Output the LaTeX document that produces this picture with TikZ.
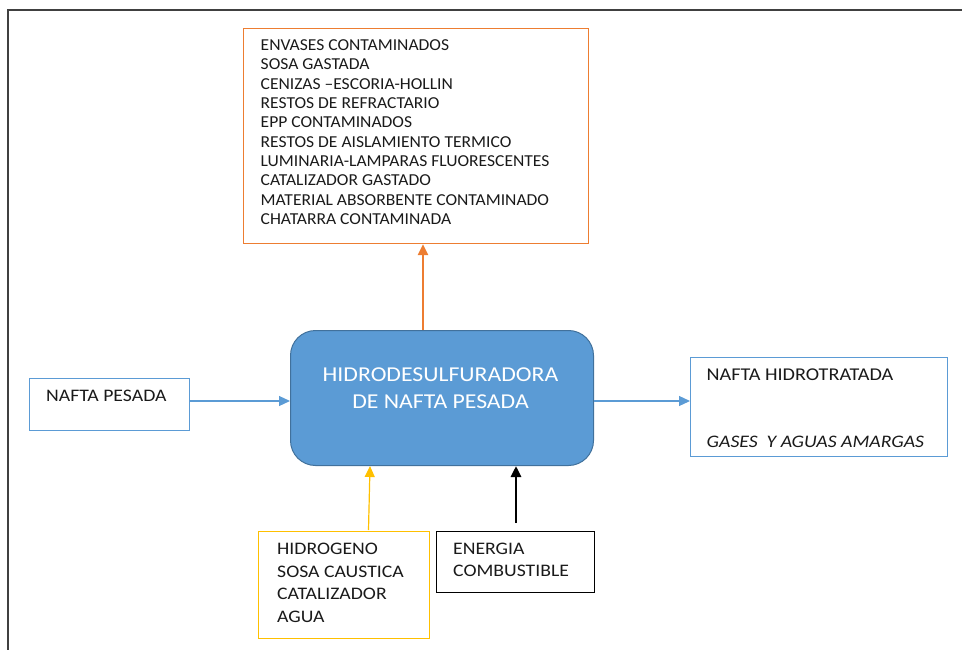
\documentclass[tikz,border=0pt]{standalone}
\usepackage{fontspec}
\setmainfont{Carlito}[FakeStretch=1.05]
\newfontfamily\wideface{Carlito}[FakeStretch=1.12]
\usetikzlibrary{arrows.meta}
\definecolor{wasteorange}{HTML}{ED7D31}
\definecolor{procblue}{HTML}{5B9BD5}
\definecolor{procedge}{HTML}{41719C}
\definecolor{feedyellow}{HTML}{FFC000}
\definecolor{inktext}{HTML}{1A1A1A}
\tikzset{
  x=1pt, y=-1pt,
  frameline/.style={draw=black!75, line width=1.6pt},
  listbox/.style={draw, line width=1.2pt, rectangle, inner sep=0pt, anchor=north west},
  proc/.style={draw=procedge, fill=procblue, line width=1pt, rounded corners=25pt,
    inner sep=0pt, anchor=north west},
  listtext/.style={inner sep=0pt, anchor=north west, align=left, text=inktext},
  flow/.style={line width=1.2pt, -{Triangle[length=11pt, width=10pt]}},
}
\begin{document}
\begin{tikzpicture}
\useasboundingbox (0,0) rectangle (962,650);
% page frame
\draw[frameline] (8,650) -- (8,10) -- (962,10);

% central process unit
\node[proc, minimum width=303pt, minimum height=135pt] (unit) at (290,330) {};
\node[inner sep=0pt, anchor=north, align=center, text=white,
  font=\wideface\fontsize{21.2}{26.5}\selectfont] (unitlabel) at (440.5,368)
  {HIDRODESULFURADORA\\DE NAFTA PESADA};

% wastes
\node[listbox, draw=wasteorange, minimum width=345pt, minimum height=215pt] (waste) at (243,28) {};
\node[listtext, font=\fontsize{16.7}{19.33}\selectfont] (wastetext) at (260.5,39.5)
  {ENVASES CONTAMINADOS\\
   SOSA GASTADA\\
   CENIZAS –ESCORIA-HOLLIN\\
   RESTOS DE REFRACTARIO\\
   EPP CONTAMINADOS\\
   RESTOS DE AISLAMIENTO TERMICO\\
   LUMINARIA-LAMPARAS FLUORESCENTES\\
   CATALIZADOR GASTADO\\
   MATERIAL ABSORBENTE CONTAMINADO\\
   CHATARRA CONTAMINADA};

% feed
\node[listbox, draw=procblue, minimum width=160pt, minimum height=52pt] (feed) at (29,378) {};
\node[listtext, font=\wideface\fontsize{17.6}{22}\selectfont] (feedtext) at (46,390) {NAFTA PESADA};

% products
\node[listbox, draw=procblue, minimum width=257pt, minimum height=99pt] (prod) at (690,357) {};
\node[listtext, font=\wideface\fontsize{18}{20}\selectfont] (prodtext1) at (706.5,369) {NAFTA HIDROTRATADA};
\node[listtext, font=\wideface\fontsize{17.6}{20}\selectfont\itshape] (prodtext2) at (706.5,436) {GASES\ \ Y AGUAS AMARGAS};

% auxiliary inputs
\node[listbox, draw=feedyellow, minimum width=171pt, minimum height=107pt] (aux) at (258,531) {};
\node[listtext, font=\wideface\fontsize{17.6}{22.5}\selectfont] (auxtext) at (277,543)
  {HIDROGENO\\SOSA CAUSTICA\\CATALIZADOR\\AGUA};

% energy
\node[listbox, draw=black, minimum width=158pt, minimum height=61pt] (energy) at (436,531) {};
\node[listtext, font=\wideface\fontsize{17.6}{21.7}\selectfont] (energytext) at (453,543)
  {ENERGIA\\COMBUSTIBLE};

% connectors
\coordinate (flowline) at (0,401);
\coordinate (auxtop) at (368.5,530);
\coordinate (auxtip) at (370,466);
\coordinate (entop) at (516,523);
\draw[flow, draw=procblue, fill=procblue] (feed.east |- flowline) -- (unit.west |- flowline);
\draw[flow, draw=procblue, fill=procblue] (unit.east |- flowline) -- (prod.west |- flowline);
\draw[flow, draw=wasteorange, fill=wasteorange, line width=2.8pt] (unit.north -| 423,0) -- (waste.south -| 423,0);
\draw[flow, draw=feedyellow, fill=feedyellow] (auxtop) -- (auxtip);
\draw[flow, draw=black, fill=black, line width=2.8pt] (entop) -- (unit.south -| entop);
\end{tikzpicture}
\end{document}
